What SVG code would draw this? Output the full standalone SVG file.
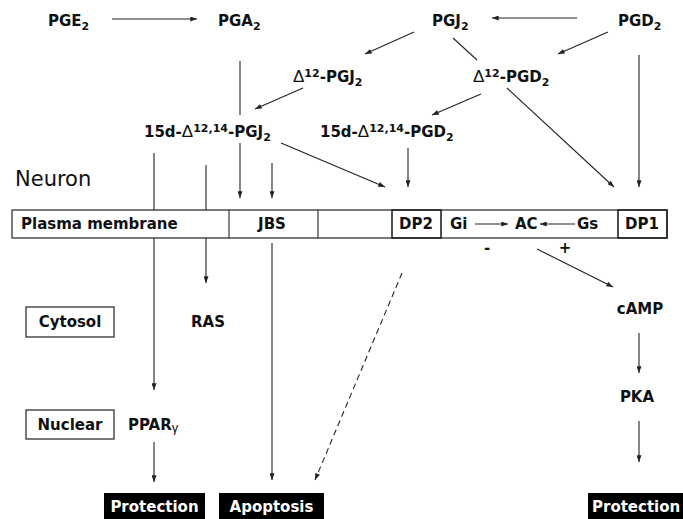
<svg xmlns="http://www.w3.org/2000/svg" width="683" height="519" viewBox="0 0 683 519">
<style>
.t{font-family:"DejaVu Sans","Liberation Sans",Arial,sans-serif;font-weight:bold;font-size:15px;fill:#111}
.s{font-size:11px}
.g{font-family:"Liberation Sans",Arial,sans-serif;font-weight:normal;font-size:17px}
.ln{stroke:#222;stroke-width:1.1;fill:none}
.ar{stroke:#222;stroke-width:1.1;fill:none;marker-end:url(#ah)}
.box{fill:#fff;stroke:#333;stroke-width:1.3}
.blk{fill:#000}
.w{fill:#fff}
</style>
<defs>
<marker id="ah" viewBox="0 0 8 6" refX="8" refY="3" markerWidth="7" markerHeight="5" markerUnits="userSpaceOnUse" orient="auto">
<path d="M0,0 L8,3 L0,6 z" fill="#222"/>
</marker>
</defs>
<rect width="683" height="519" fill="#fff"/>

<g id="membrane">
<rect class="box" x="12" y="210" width="655" height="28"/>
<line class="ln" x1="229" y1="210" x2="229" y2="238"/>
<line class="ln" x1="318" y1="210" x2="318" y2="238"/>
<rect x="392" y="210" width="49" height="28" fill="none" stroke="#222" stroke-width="1.6"/>
<rect x="618" y="210" width="49" height="28" fill="none" stroke="#222" stroke-width="1.6"/>
<text class="t" x="21" y="229">Plasma  membrane</text>
<text class="t" x="272" y="229" text-anchor="middle">JBS</text>
<text class="t" x="416" y="229" text-anchor="middle">DP2</text>
<text class="t" x="450" y="229">Gi</text>
<text class="t" x="515" y="229">AC</text>
<text class="t" x="577" y="229">Gs</text>
<text class="t" x="642" y="229" text-anchor="middle">DP1</text>
</g>

<g id="connectors">
<line class="ar" x1="112" y1="19" x2="197" y2="19"/>
<line class="ar" x1="577" y1="18" x2="492" y2="18"/>
<line class="ln" x1="240" y1="61" x2="240" y2="115"/>
<line class="ar" x1="414" y1="32" x2="365" y2="54"/>
<line class="ln" x1="453" y1="38" x2="477" y2="60"/>
<line class="ar" x1="608" y1="32" x2="558" y2="54"/>
<line class="ar" x1="303" y1="88" x2="255" y2="109"/>
<line class="ar" x1="481" y1="94" x2="432" y2="115"/>
<line class="ar" x1="507" y1="88" x2="614" y2="187"/>
<line class="ar" x1="639" y1="55" x2="639" y2="187"/>
<line class="ar" x1="408" y1="148" x2="408" y2="187"/>
<line class="ar" x1="281" y1="143" x2="385" y2="187"/>
<line class="ar" x1="240" y1="143" x2="240" y2="198"/>
<line class="ar" x1="272" y1="163" x2="272" y2="198"/>
<line class="ln" x1="154" y1="153" x2="154" y2="210"/>
<line class="ar" x1="154" y1="238" x2="154" y2="390"/>
<line class="ln" x1="206" y1="165" x2="206" y2="210"/>
<line class="ar" x1="206" y1="238" x2="206" y2="283"/>
<line class="ar" x1="272" y1="243" x2="272" y2="480"/>
<line class="ar" x1="402" y1="273" x2="315" y2="480" stroke-dasharray="6,4"/>
<line class="ar" x1="154" y1="442" x2="154" y2="482"/>
<line class="ar" x1="475" y1="224" x2="508" y2="224"/>
<line class="ar" x1="575" y1="224" x2="540" y2="224"/>
<line class="ar" x1="537" y1="249" x2="613" y2="287"/>
<line class="ar" x1="639" y1="333" x2="639" y2="373"/>
<line class="ar" x1="639" y1="421" x2="639" y2="462"/>
</g>

<g id="n-pge2"><text class="t" x="48" y="26">PGE<tspan class="s" dy="4">2</tspan></text></g>
<g id="n-pga2"><text class="t" x="218" y="26">PGA<tspan class="s" dy="4">2</tspan></text></g>
<g id="n-pgj2"><text class="t" x="432" y="26">PGJ<tspan class="s" dy="4">2</tspan></text></g>
<g id="n-pgd2"><text class="t" x="618" y="26">PGD<tspan class="s" dy="4">2</tspan></text></g>
<g id="n-d12pgj2"><text class="t" x="293" y="82"><tspan class="g">Δ</tspan><tspan class="s" dy="-5">12</tspan><tspan dy="5">-PGJ</tspan><tspan class="s" dy="4">2</tspan></text></g>
<g id="n-d12pgd2"><text class="t" x="473" y="82"><tspan class="g">Δ</tspan><tspan class="s" dy="-5">12</tspan><tspan dy="5">-PGD</tspan><tspan class="s" dy="4">2</tspan></text></g>
<g id="n-15dpgj2"><text class="t" x="144" y="137">15d-<tspan class="g">Δ</tspan><tspan class="s" dy="-5">12,14</tspan><tspan dy="5">-PGJ</tspan><tspan class="s" dy="4">2</tspan></text></g>
<g id="n-15dpgd2"><text class="t" x="320" y="137">15d-<tspan class="g">Δ</tspan><tspan class="s" dy="-5">12,14</tspan><tspan dy="5">-PGD</tspan><tspan class="s" dy="4">2</tspan></text></g>

<g id="n-neuron"><text x="15" y="186" style="font-family:'DejaVu Sans','Liberation Sans',Arial,sans-serif;font-size:21px;fill:#111">Neuron</text></g>
<g id="n-minus"><text class="t" x="487" y="253" text-anchor="middle">-</text></g>
<g id="n-plus"><text class="t" x="565" y="253" text-anchor="middle">+</text></g>

<g id="n-cytosol"><rect class="box" x="26" y="307" width="88" height="30"/><text class="t" x="70" y="327" text-anchor="middle">Cytosol</text></g>
<g id="n-ras"><text class="t" x="208" y="327" text-anchor="middle">RAS</text></g>
<g id="n-nuclear"><rect class="box" x="26" y="410" width="88" height="29"/><text class="t" x="70" y="430" text-anchor="middle">Nuclear</text></g>
<g id="n-ppar"><text class="t" x="128" y="430">PPAR<tspan font-family="Liberation Sans, Arial, sans-serif" font-weight="normal" font-size="13" dy="2">γ</tspan></text></g>
<g id="n-camp"><text class="t" x="640" y="314" text-anchor="middle">cAMP</text></g>
<g id="n-pka"><text class="t" x="637" y="402" text-anchor="middle">PKA</text></g>

<g id="n-protection1"><rect class="blk" x="104" y="493" width="101" height="26"/><text class="t w" x="154.5" y="512" text-anchor="middle">Protection</text></g>
<g id="n-apoptosis"><rect class="blk" x="219" y="493" width="105" height="26"/><text class="t w" x="271.5" y="512" text-anchor="middle">Apoptosis</text></g>
<g id="n-protection2"><rect class="blk" x="588" y="493" width="95" height="26"/><text class="t w" x="592" y="512">Protection</text></g>
</svg>
